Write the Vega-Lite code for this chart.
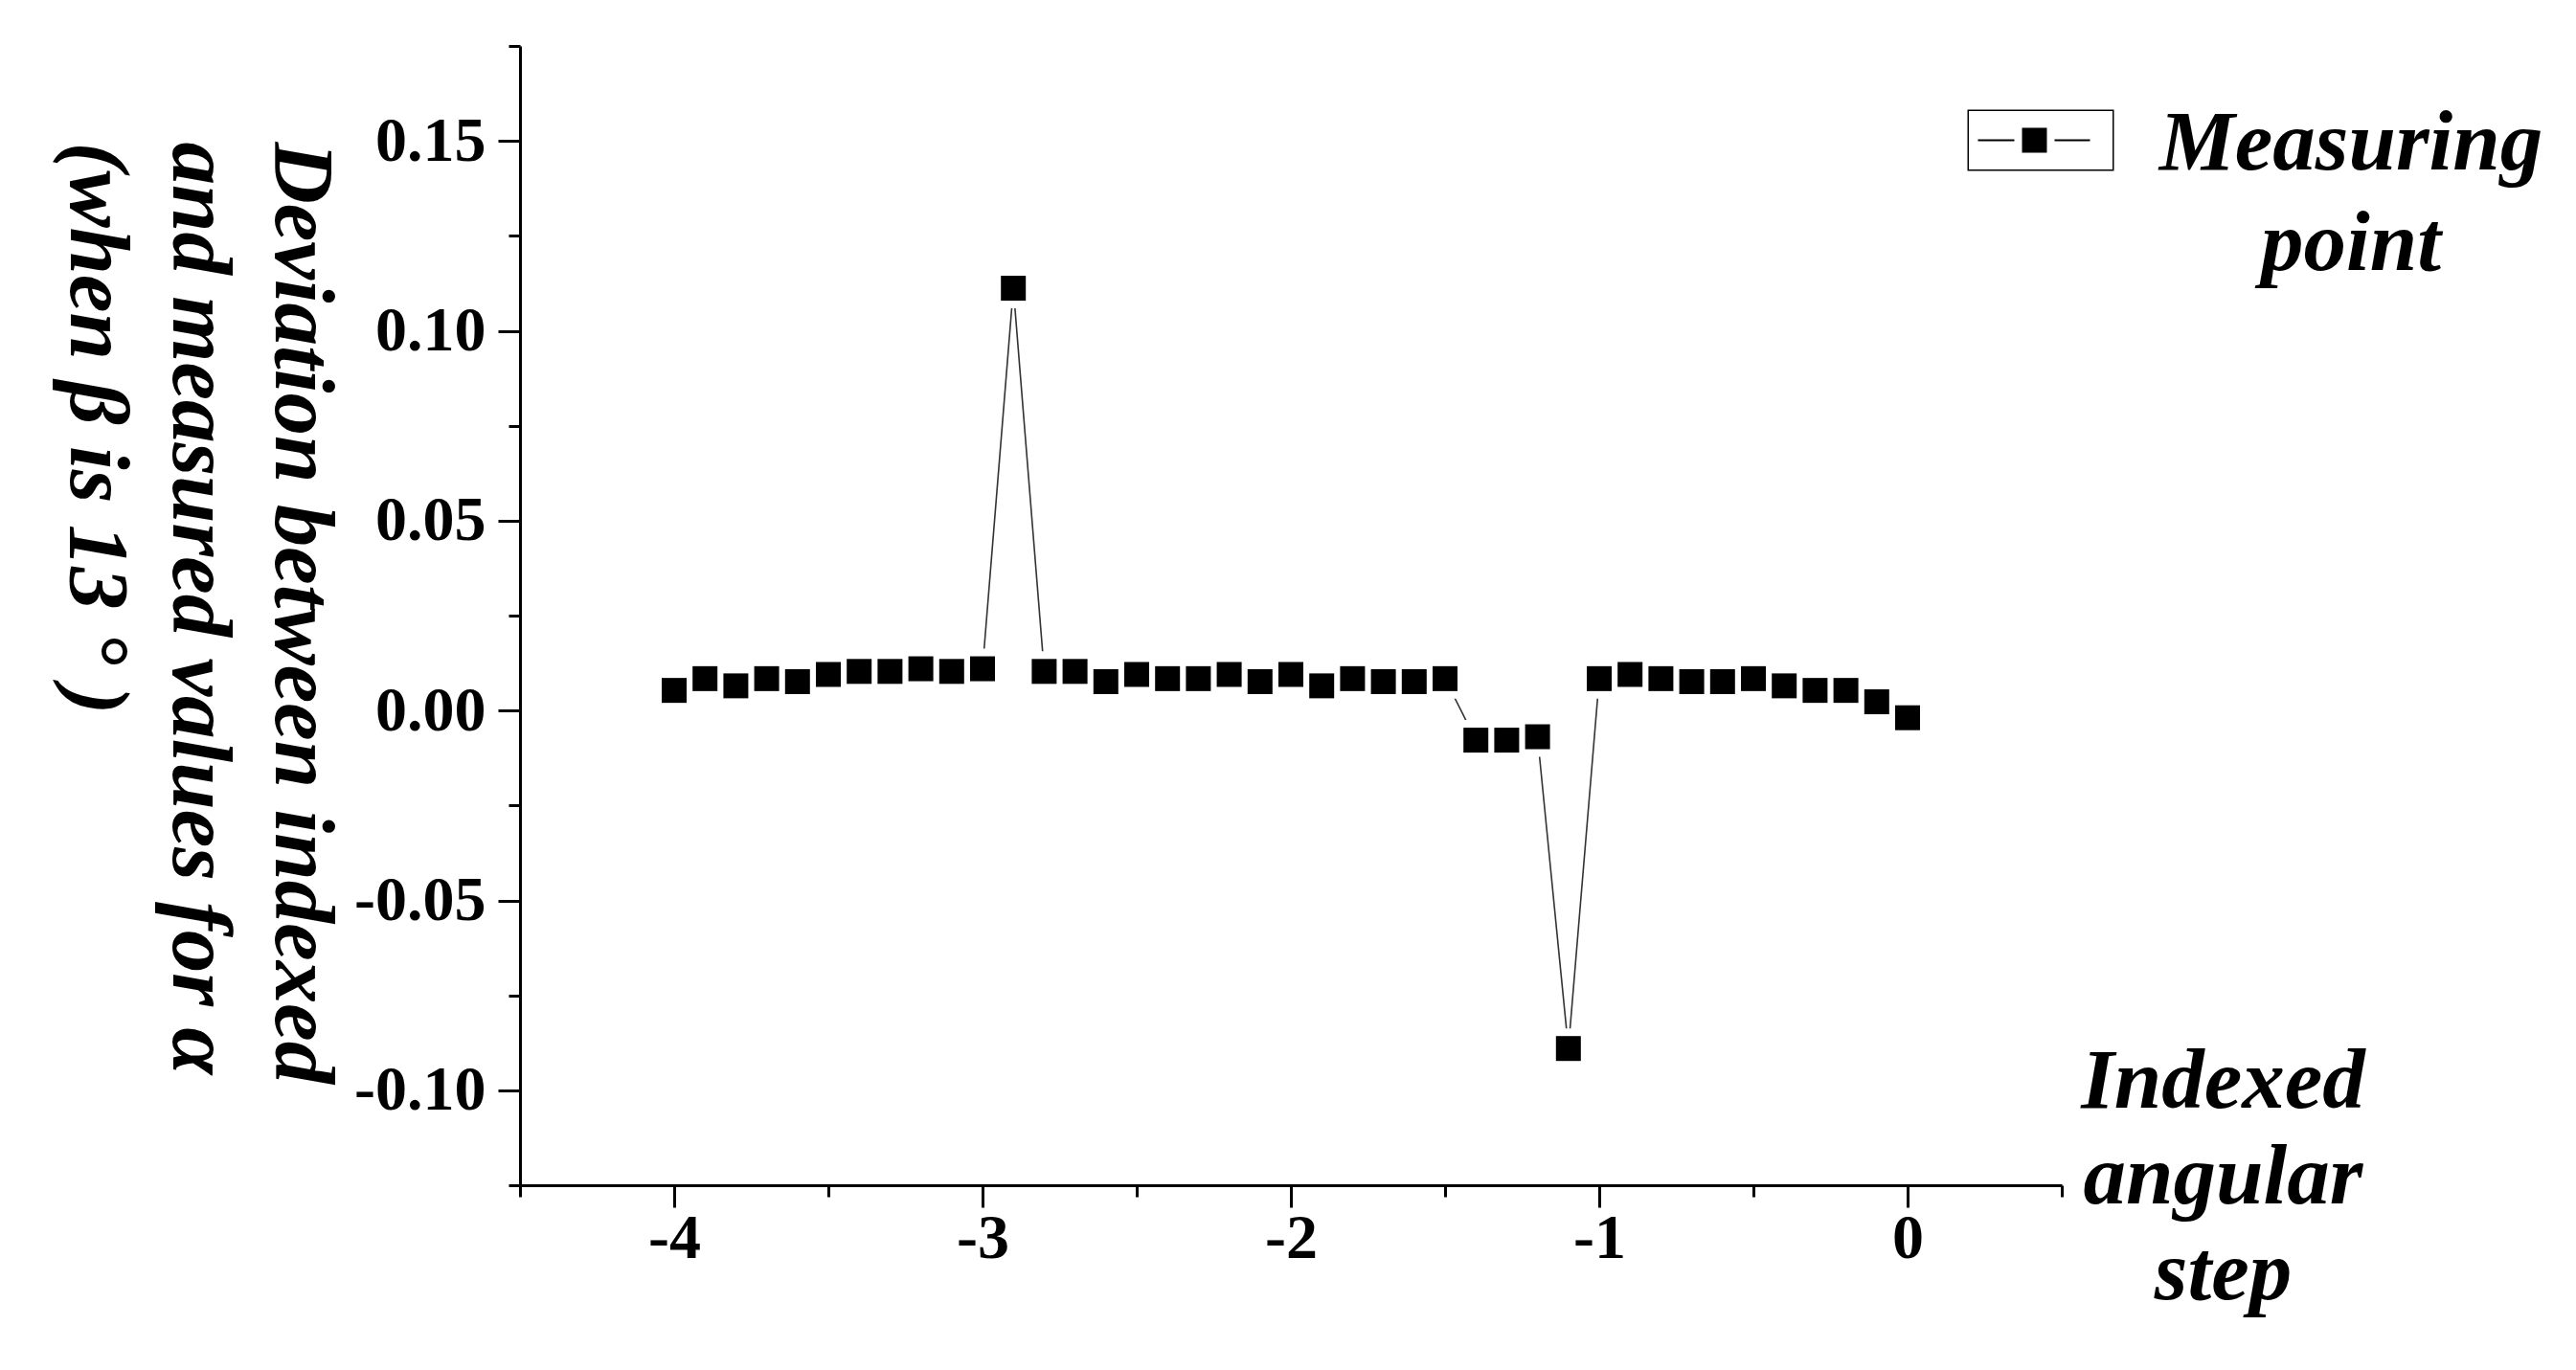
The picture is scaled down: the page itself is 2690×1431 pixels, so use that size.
{
  "$schema": "https://vega.github.io/schema/vega-lite/v6.json",
  "autosize": {"type": "none"},
  "padding": {"left": 543, "top": 48, "right": 537, "bottom": 193},
  "width": 1610,
  "height": 1190,
  "background": "white",
  "config": {
    "view": {"stroke": null},
    "axis": {
      "grid": false,
      "domainColor": "black",
      "domainWidth": 3,
      "tickColor": "black",
      "tickWidth": 3,
      "labelFont": "Liberation Serif",
      "labelFontWeight": "bold",
      "labelFontSize": 66,
      "labelColor": "black",
      "labelOverlap": false,
      "labelFlush": false,
      "labelBound": false,
      "titleFont": "Liberation Serif",
      "titleFontWeight": "bold",
      "titleFontStyle": "italic",
      "titleFontSize": 89,
      "titleColor": "black"
    }
  },
  "data": {
    "values": [
      {"step": -4.0, "deviation": 0.0053},
      {"step": -3.9, "deviation": 0.0084},
      {"step": -3.8, "deviation": 0.0065},
      {"step": -3.7, "deviation": 0.0084},
      {"step": -3.6, "deviation": 0.0076},
      {"step": -3.5, "deviation": 0.0095},
      {"step": -3.4, "deviation": 0.0103},
      {"step": -3.3, "deviation": 0.0103},
      {"step": -3.2, "deviation": 0.0110},
      {"step": -3.1, "deviation": 0.0103},
      {"step": -3.0, "deviation": 0.0110},
      {"step": -2.9, "deviation": 0.1112},
      {"step": -2.8, "deviation": 0.0103},
      {"step": -2.7, "deviation": 0.0103},
      {"step": -2.6, "deviation": 0.0076},
      {"step": -2.5, "deviation": 0.0095},
      {"step": -2.4, "deviation": 0.0084},
      {"step": -2.3, "deviation": 0.0084},
      {"step": -2.2, "deviation": 0.0095},
      {"step": -2.1, "deviation": 0.0076},
      {"step": -2.0, "deviation": 0.0095},
      {"step": -1.9, "deviation": 0.0065},
      {"step": -1.8, "deviation": 0.0084},
      {"step": -1.7, "deviation": 0.0076},
      {"step": -1.6, "deviation": 0.0076},
      {"step": -1.5, "deviation": 0.0084},
      {"step": -1.4, "deviation": -0.0078},
      {"step": -1.3, "deviation": -0.0078},
      {"step": -1.2, "deviation": -0.0069},
      {"step": -1.1, "deviation": -0.0890},
      {"step": -1.0, "deviation": 0.0084},
      {"step": -0.9, "deviation": 0.0095},
      {"step": -0.8, "deviation": 0.0084},
      {"step": -0.7, "deviation": 0.0076},
      {"step": -0.6, "deviation": 0.0076},
      {"step": -0.5, "deviation": 0.0084},
      {"step": -0.4, "deviation": 0.0065},
      {"step": -0.3, "deviation": 0.0053},
      {"step": -0.2, "deviation": 0.0053},
      {"step": -0.1, "deviation": 0.0023},
      {"step": 0.0, "deviation": -0.0019}
    ]
  },
  "encoding": {
    "x": {
      "field": "step",
      "type": "quantitative",
      "scale": {"domain": [-4.5, 0.5], "nice": false, "zero": false},
      "axis": {
        "orient": "bottom",
        "values": [-4.5, -4, -3.5, -3, -2.5, -2, -1.5, -1, -0.5, 0, 0.5],
        "tickSize": {"condition": {"test": "round(datum.value) == datum.value", "value": 23}, "value": 12},
        "labelExpr": "round(datum.value) == datum.value ? (datum.value < 0 ? '-' : '') + format(abs(datum.value), 'd') : ''",
        "labelPadding": 0,
        "labelBaseline": "top",
        "title": ["Indexed", "angular", "step"],
        "titleX": 1778,
        "titleY": -82,
        "titleAlign": "center",
        "titleBaseline": "alphabetic",
        "titleAngle": 0,
        "titleLineHeight": 100
      }
    },
    "y": {
      "field": "deviation",
      "type": "quantitative",
      "scale": {"domain": [-0.125, 0.175], "nice": false, "zero": false},
      "axis": {
        "orient": "left",
        "values": [-0.125, -0.1, -0.075, -0.05, -0.025, 0, 0.025, 0.05, 0.075, 0.1, 0.125, 0.15, 0.175],
        "tickSize": {"condition": {"test": "abs(round(datum.value * 40)) % 2 == 0", "value": 23}, "value": 12},
        "labelExpr": "abs(round(datum.value * 40)) % 2 == 0 ? (datum.value < -1e-9 ? '-' : '') + format(abs(datum.value), '.2f') : ''",
        "labelPadding": 13,
        "title": ["Deviation between indexed", "and measured values for α", "(when β is 13 ° )"],
        "titleX": -256,
        "titleY": 100,
        "titleAngle": 90,
        "titleAlign": "left",
        "titleBaseline": "alphabetic",
        "titleLineHeight": 107
      }
    }
  },
  "layer": [
    {
      "mark": {"type": "line", "stroke": "#333333", "strokeWidth": 1.6}
    },
    {
      "mark": {"type": "point", "shape": "square", "filled": true, "color": "white", "opacity": 1, "size": 1764}
    },
    {
      "mark": {"type": "point", "shape": "square", "filled": true, "opacity": 1, "size": 676},
      "encoding": {
        "color": {
          "datum": "Measuring point",
          "scale": {"range": ["black"]},
          "legend": {
            "orient": "none",
            "legendX": 1537,
            "legendY": 54,
            "title": null,
            "padding": 0,
            "symbolSize": 3600,
            "symbolStrokeWidth": 0,
            "symbolOpacity": 1,
            "symbolFillColor": "black",
            "labelExpr": "['Measuring', 'point']",
            "labelFont": "Liberation Serif",
            "labelFontSize": 89,
            "labelFontStyle": "italic",
            "labelFontWeight": "bold",
            "labelColor": "black",
            "labelAlign": "center",
            "labelBaseline": "alphabetic",
            "labelOffset": 286,
            "labelLimit": 0,
            "encode": {
              "symbols": {
                "update": {
                  "shape": {"value": "M-2.333,-1.067L2.767,-1.067L2.767,1.067L-2.333,1.067Z M-2.283,-1.017L-2.283,1.017L2.717,1.017L2.717,-1.017Z M-0.433,-0.433L0.433,-0.433L0.433,0.433L-0.433,0.433Z M-1.967,-0.03L-0.7,-0.03L-0.7,0.03L-1.967,0.03Z M0.7,-0.03L1.933,-0.03L1.933,0.03L0.7,0.03Z"},
                  "size": {"value": 3600},
                  "fill": {"value": "black"},
                  "opacity": {"value": 1},
                  "strokeWidth": {"value": 0}
                }
              },
              "labels": {
                "update": {
                  "lineHeight": {"value": 105},
                  "dy": {"value": 30}
                }
              }
            }
          }
        }
      }
    }
  ]
}
